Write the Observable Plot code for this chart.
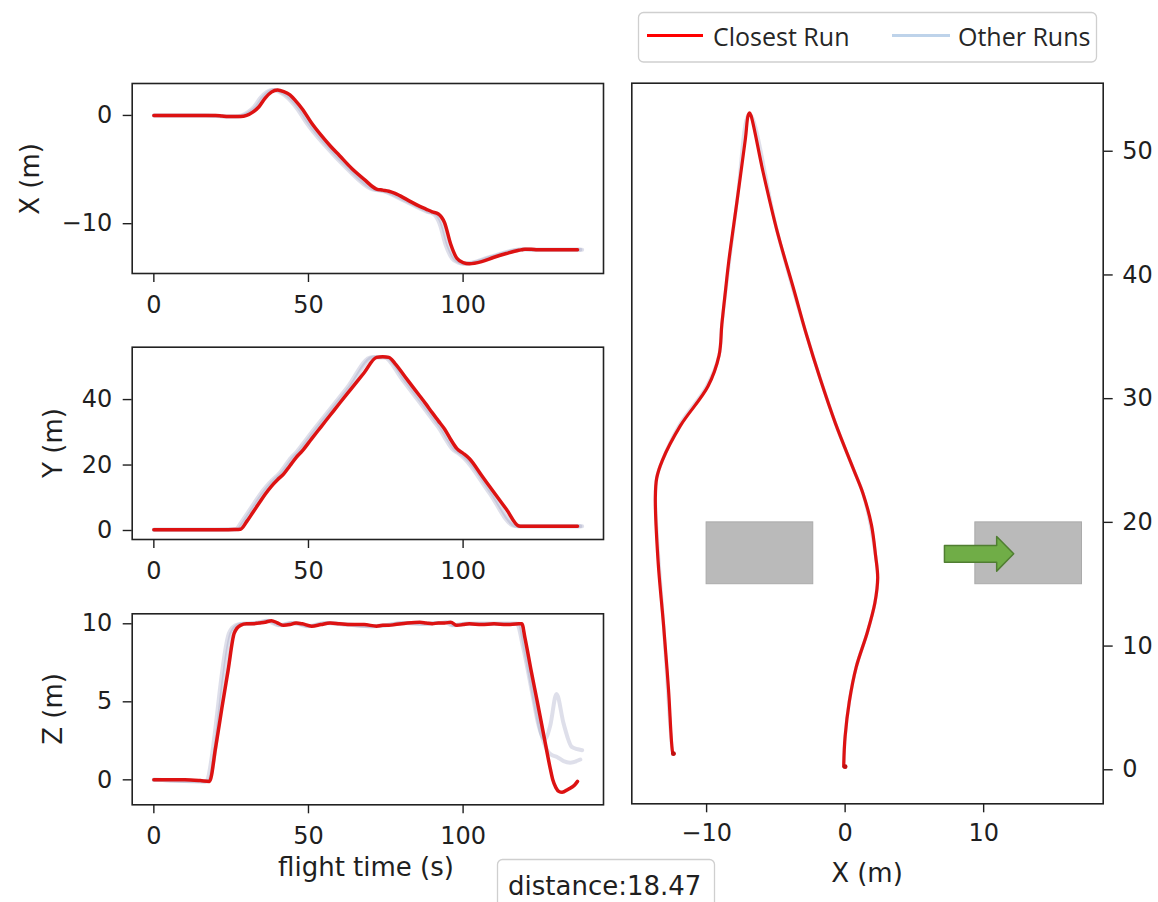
<!DOCTYPE html>
<html><head><meta charset="utf-8">
<script src="https://cdn.jsdelivr.net/npm/d3@7"></script>
<script src="https://cdn.jsdelivr.net/npm/@observablehq/plot@0.6"></script>
<style>
html,body{margin:0;padding:0;background:#fff;}
#wrap{position:relative;width:1158px;height:902px;overflow:hidden;background:#fff;}
#wrap svg{position:absolute;left:0;top:0;}
</style></head><body><div id="wrap"></div>
<script>
// ---- closest run (time series, s / m) ----
const flightTime = [0,5,10,15,18,20,22,24,26,28,30,32,34,36,38,40,42,44,46,48,51,54,57,60,64,68,72,74,76,78,82,86,88,90,92,94,96,98,100,102,106,110,114,118,119,120,122,124,126,128,129,130,131,132,134,136,137];
const closestX = [0,0,0,0,0, 0,-0.05,-0.1,-0.1,-0.1, 0,0.3,0.8,1.6,2.15, 2.35,2.2,1.9,1.3,0.6, -0.7,-1.8,-2.8,-3.7,-4.9, -5.9,-6.8,-6.9,-7.0,-7.2, -7.8,-8.4,-8.65,-8.9,-9.1, -9.9,-11.9,-13.2,-13.6,-13.7, -13.5,-13.1,-12.75,-12.45,-12.4, -12.35,-12.35,-12.4,-12.4,-12.4, -12.4,-12.4,-12.4,-12.4,-12.4, -12.4,-12.4];
const closestY = [0.25,0.25,0.25,0.25,0.25, 0.25,0.25,0.25,0.3,0.4, 2.7,5.5,8.3,11.1,13.5, 15.5,17.3,19.8,22.3,24.3, 28.0,31.6,35.2,38.8,43.5, 48.2,52.9,53.1,52.9,51.0, 46.0,41.1,38.6,36.0,33.5, 31.0,27.8,25.0,23.6,22.0, 16.8,11.6,6.5,1.4,1.3, 1.3,1.3,1.3,1.3,1.3, 1.3,1.3,1.3,1.3,1.3, 1.3,1.3];
const closestZ = [0,0,0,-0.05,-0.1, 2.1,4.6,7.0,9.4,9.9, 10.0,10.0,10.05,10.1,10.2, 10.05,9.9,9.95,10.05,10.0, 9.85,9.95,10.05,10.0,9.95, 9.95,9.85,9.9,9.9,9.95, 10.05,10.1,10.05,10.0,10.05, 10.05,10.1,9.9,9.95,10.0, 9.95,10.0,9.95,10.0,10.0, 9.1,7.0,5.0,2.95,0.9, 0.0,-0.5,-0.75,-0.8,-0.6, -0.35,-0.1];

// ---- other runs ----
const otherTimeA = [0,16.6,24.3,26.4,28.4,30.4,32.4,34.4,36.4,38.4,40.4,44.4,46.4,49.4,55.4,62.4,70.4,74.4,80.4,88.4,90.4,92.4,94.4,96.4,98.4,100.4,108.4,116.4,117.4,119.4,122.4,124.4,126.4,128.2,130.2,132.5,135.2,138.5];
const otherTimeB = [0,17.4,25.1,27.2,29.2,31.2,33.2,35.2,37.2,39.2,41.2,45.2,47.2,50.2,56.2,63.2,71.2,75.2,81.2,89.2,91.2,93.2,95.2,97.2,99.2,101.2,109.2,117.2,118.2,120.2,123.2,125.2,127.2,128.2,130.5,132.5,134.6,137.9];
const otherX = [0,0,-0.1,-0.1,0.0,0.3,0.8,1.6,2.15,2.35,2.2,1.3,0.6,-0.7,-2.8,-4.9,-6.8,-7.0,-7.8,-8.9,-9.1,-10.0,-12.0,-13.2,-13.6,-13.7,-13.1,-12.45,-12.4,-12.35,-12.4,-12.4,-12.4,-12.4,-12.4,-12.4,-12.4,-12.4];
const otherY = [0.25,0.25,0.3,0.4,2.7,5.5,8.3,11.1,13.5,15.5,17.3,22.3,24.3,28.0,35.2,43.5,52.9,52.9,46.0,36.0,33.5,31.0,27.8,25.0,23.6,22.0,11.6,1.4,1.3,1.3,1.3,1.3,1.3,1.3,1.3,1.3,1.3,1.3];
const otherZA = [0,-0.1,9.4,9.9,10.0,10.0,10.05,10.1,10.2,10.05,9.9,10.05,10.0,9.85,10.05,9.95,9.85,9.9,10.05,10.0,10.05,10.05,10.1,9.9,9.95,10.0,10.0,10.0,10.0,8.5,5.5,3.5,2.6,3.5,5.5,3.6,2.1,1.9];
const otherZB = [0,-0.1,9.4,9.9,10.0,10.0,10.05,10.1,10.2,10.05,9.9,10.05,10.0,9.85,10.05,9.95,9.85,9.9,10.05,10.0,10.05,10.05,10.1,9.9,9.95,10.0,10.0,10.0,10.0,8.2,5.0,3.0,1.9,1.65,1.45,1.2,1.1,1.3];

// ---- scene objects (m) ----
const obstacleX1 = [-10, 9.4];
const obstacleX2 = [-2.3, 17.1];
const obstacleY1 = [15, 15];
const obstacleY2 = [20, 20];
const arrowX = [7.17, 10.94, 10.94, 12.17, 10.94, 10.94, 7.17];
const arrowY = [18.13, 18.13, 18.86, 17.46, 16.06, 16.78, 16.78];

// ---- ticks / labels ----
const timeTicks = [0, 50, 100];
const xTicks = [-10, 0];
const yTicks = [0, 20, 40];
const zTicks = [0, 5, 10];
const mapXTicks = [-10, 0, 10];
const mapYTicks = [0, 10, 20, 30, 40, 50];
const legendLabels = ["Closest Run", "Other Runs"];
const distanceValue = 18.47;

const closestRun = flightTime.map((t, i) => ({t, x: closestX[i], y: closestY[i], z: closestZ[i]}));
const otherRuns = [
  ...otherTimeA.map((t, i) => ({run: "A", t, x: otherX[i], y: otherY[i], z: otherZA[i]})),
  ...otherTimeB.map((t, i) => ({run: "B", t, x: otherX[i], y: otherY[i], z: otherZB[i]}))
];
const obstacles = obstacleX1.map((d, i) => ({x1: d, x2: obstacleX2[i], y1: obstacleY1[i], y2: obstacleY2[i]}));
const arrowPts = arrowX.map((d, i) => ({x: d, y: arrowY[i]}));

const W = 1158, H = 902;
const fmt = d => (d < 0 ? "\u2212" + Math.abs(d) : String(d));
const RED = "#dd1212";
const OTHER = "#8a8db5";
const style = {background: "transparent", fontFamily: "DejaVu Sans", fontSize: "24px", color: "#1f1f1f", overflow: "visible"};
const wrap = document.getElementById("wrap");

function timePanel(key, top, bottom, yDomain, ticks) {
  return Plot.plot({
    width: W, height: H,
    marginLeft: 131.7, marginRight: W - 603, marginTop: top, marginBottom: H - bottom,
    style,
    x: {domain: [-7, 145.4]},
    y: {domain: yDomain},
    marks: [
      Plot.line(otherRuns, {x: "t", y: key, z: "run", stroke: OTHER, strokeOpacity: 0.28, strokeWidth: 4, curve: "monotone-x"}),
      Plot.line(closestRun, {x: "t", y: key, stroke: RED, strokeWidth: 3.5, curve: "monotone-x"}),
      Plot.frame({stroke: "#222", strokeWidth: 1.6}),
      Plot.axisX({ticks: timeTicks, tickSize: 9, tickPadding: 13, fontSize: 24, label: null, tickFormat: fmt, strokeWidth: 1.4}),
      Plot.axisY({ticks, tickSize: 9, tickPadding: 11, fontSize: 24, label: null, tickFormat: fmt, strokeWidth: 1.4})
    ]
  });
}

const p1 = timePanel("x", 83, 273, [-14.6, 2.95], xTicks);
const p2 = timePanel("y", 346.7, 539, [-2.75, 56], yTicks);
const p3 = timePanel("z", 613.3, 804.3, [-1.6, 10.64], zTicks);

const p4 = Plot.plot({
  width: W, height: H,
  marginLeft: 631.3, marginRight: W - 1102.7, marginTop: 82.7, marginBottom: H - 803.3,
  style,
  x: {domain: [-15.4, 18.63]},
  y: {domain: [-2.75, 55.5]},
  marks: [
    Plot.rect(obstacles, {x1: "x1", x2: "x2", y1: "y1", y2: "y2", fill: "#bababa", stroke: "#ababab", strokeWidth: 1}),
    Plot.line(arrowPts, {x: "x", y: "y", fill: "#70ad47", stroke: "#507e32", strokeWidth: 1.5, curve: "linear-closed"}),
    Plot.line(otherRuns, {x: "x", y: "y", z: "run", stroke: OTHER, strokeOpacity: 0.15, strokeWidth: 3.4, curve: "catmull-rom"}),
    Plot.line(closestRun, {x: "x", y: "y", stroke: RED, strokeWidth: 3.2, curve: "catmull-rom"}),
    Plot.dot([closestRun[0], closestRun[closestRun.length - 1]], {x: "x", y: "y", r: 2.4, fill: "#c01010", stroke: "none"}),
    Plot.frame({stroke: "#222", strokeWidth: 1.6}),
    Plot.axisX({ticks: mapXTicks, tickSize: 9, tickPadding: 11, fontSize: 24, label: null, tickFormat: fmt, strokeWidth: 1.4}),
    Plot.axisY({anchor: "right", ticks: mapYTicks, tickSize: 9, tickPadding: 10, fontSize: 24, label: null, tickFormat: fmt, strokeWidth: 1.4})
  ]
});

[p1, p2, p3, p4].forEach(p => wrap.appendChild(p));

// ---- overlay: labels, legend, distance box ----
const ov = d3.select(wrap).append("svg").attr("width", W).attr("height", H)
  .style("font-family", "DejaVu Sans").style("overflow", "visible");
const txt = "#1f1f1f";
[["X (m)", 39, 179], ["Y (m)", 62, 443], ["Z (m)", 62, 709]].forEach(([s, x, y]) => {
  ov.append("text").attr("transform", `translate(${x},${y}) rotate(-90)`).attr("text-anchor", "middle")
    .attr("font-size", 26).attr("fill", txt).text(s);
});
ov.append("text").attr("x", 366).attr("y", 876).attr("text-anchor", "middle").attr("font-size", 26).attr("fill", txt).text("flight time (s)");
ov.append("text").attr("x", 867).attr("y", 882).attr("text-anchor", "middle").attr("font-size", 26).attr("fill", txt).text("X (m)");

// legend
const lg = ov.append("g");
lg.append("rect").attr("x", 638.5).attr("y", 12.5).attr("width", 458).attr("height", 49.5).attr("rx", 5)
  .attr("fill", "#fff").attr("stroke", "#cfcfcf").attr("stroke-width", 1.3);
lg.append("line").attr("x1", 647).attr("x2", 703).attr("y1", 35.5).attr("y2", 35.5).attr("stroke", "#ff0000").attr("stroke-width", 3);
lg.append("text").attr("x", 713).attr("y", 46).attr("font-family", "Open Sans").attr("font-size", 25).attr("fill", "#262626").text(legendLabels[0]);
lg.append("line").attr("x1", 892).attr("x2", 950).attr("y1", 35.5).attr("y2", 35.5).attr("stroke", "#bed3ea").attr("stroke-width", 3);
lg.append("text").attr("x", 958).attr("y", 46).attr("font-family", "Open Sans").attr("font-size", 25).attr("fill", "#262626").text(legendLabels[1]);

// distance box
ov.append("rect").attr("x", 497.5).attr("y", 859.5).attr("width", 217).attr("height", 48).attr("rx", 5)
  .attr("fill", "#fff").attr("stroke", "#cfcfcf").attr("stroke-width", 1.3);
ov.append("text").attr("x", 508).attr("y", 895).attr("font-size", 26).attr("fill", txt).text("distance:" + distanceValue.toFixed(2));
</script>
</body></html>
